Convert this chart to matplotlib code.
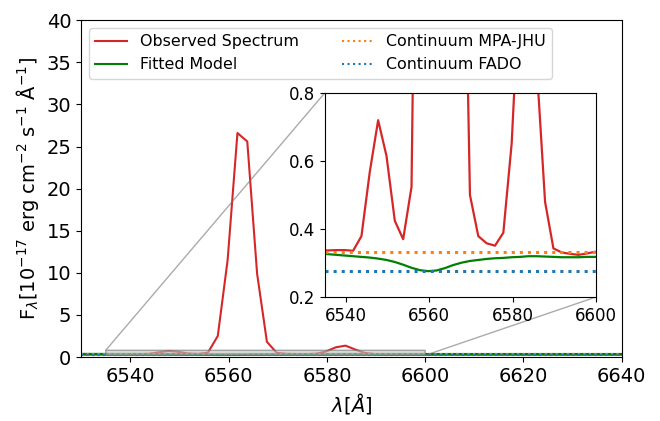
import numpy as np
import matplotlib
matplotlib.use("Agg")
import matplotlib.pyplot as plt

wavelength = np.arange(6529.8, 6642.0, 2.0)
observed = [0.335, 0.336, 0.337, 0.337, 0.338, 0.338, 0.336, 0.379, 0.568, 0.720,
            0.615, 0.424, 0.370, 0.524, 2.50, 11.5, 26.6, 25.6, 9.9, 1.8,
            0.50, 0.379, 0.358, 0.351, 0.389, 0.652, 1.15, 1.35, 0.88, 0.48,
            0.343, 0.331, 0.327, 0.324, 0.328, 0.333, 0.333, 0.332, 0.333, 0.332,
            0.333, 0.332, 0.333, 0.332, 0.333, 0.332, 0.333, 0.332, 0.333, 0.332,
            0.333, 0.332, 0.333, 0.332, 0.333, 0.332, 0.333]
model = [0.330, 0.329, 0.328, 0.326, 0.324, 0.322, 0.320, 0.318, 0.316, 0.313,
         0.309, 0.303, 0.295, 0.286, 0.279, 0.276, 0.278, 0.285, 0.294, 0.301,
         0.306, 0.309, 0.312, 0.314, 0.315, 0.317, 0.318, 0.320, 0.320, 0.319,
         0.318, 0.317, 0.317, 0.317, 0.318, 0.318, 0.318, 0.318, 0.318, 0.318,
         0.318, 0.318, 0.318, 0.318, 0.318, 0.318, 0.318, 0.318, 0.318, 0.318,
         0.318, 0.318, 0.318, 0.318, 0.318, 0.318, 0.318]
cont_mpa = 0.333
cont_fado = 0.276

fig = plt.figure(figsize=(6.6, 4.21), dpi=100)
ax = fig.add_axes([0.123, 0.152, 0.819, 0.800])

def draw(a, lw_red, lw_green, lw_dot):
    a.plot(wavelength, observed, color='tab:red', lw=lw_red, label='Observed Spectrum')
    a.plot(wavelength, model, color='green', lw=lw_green, label='Fitted Model')
    a.axhline(cont_mpa, color='tab:orange', ls=':', lw=lw_dot, label='Continuum MPA-JHU')
    a.axhline(cont_fado, color='tab:blue', ls=':', lw=lw_dot, label='Continuum FADO')

draw(ax, 1.5, 2.0, 1.5)
ax.set_xlim(6530, 6640)
ax.set_ylim(0, 40)
ax.tick_params(labelsize=14)
ax.set_xlabel(r'$\lambda [\AA]$', fontsize=14)
ax.set_ylabel(r'F$_\lambda$[10$^{-17}$ erg cm$^{-2}$ s$^{-1}$ Å$^{-1}$]', fontsize=14)
leg = ax.legend(loc='upper left', ncol=2, fontsize=11.4, columnspacing=2.7)
for h in leg.get_lines():
    h.set_linewidth(1.5)

axins = fig.add_axes([0.492, 0.2945, 0.411, 0.4846])
draw(axins, 1.6, 1.6, 2.2)
axins.set_xlim(6535, 6600)
axins.set_ylim(0.2, 0.8)
axins.set_xticks([6540, 6560, 6580, 6600])
axins.set_yticks([0.2, 0.4, 0.6, 0.8])
axins.tick_params(labelsize=12)
ind = ax.indicate_inset_zoom(axins, edgecolor='0.45', facecolor='0.75', alpha=0.6)
conns = ind.connectors
vis = [False, True, True, False]
for c, v in zip(conns, vis):
    c.set_visible(v)

fig.savefig('out.png', dpi=100)
